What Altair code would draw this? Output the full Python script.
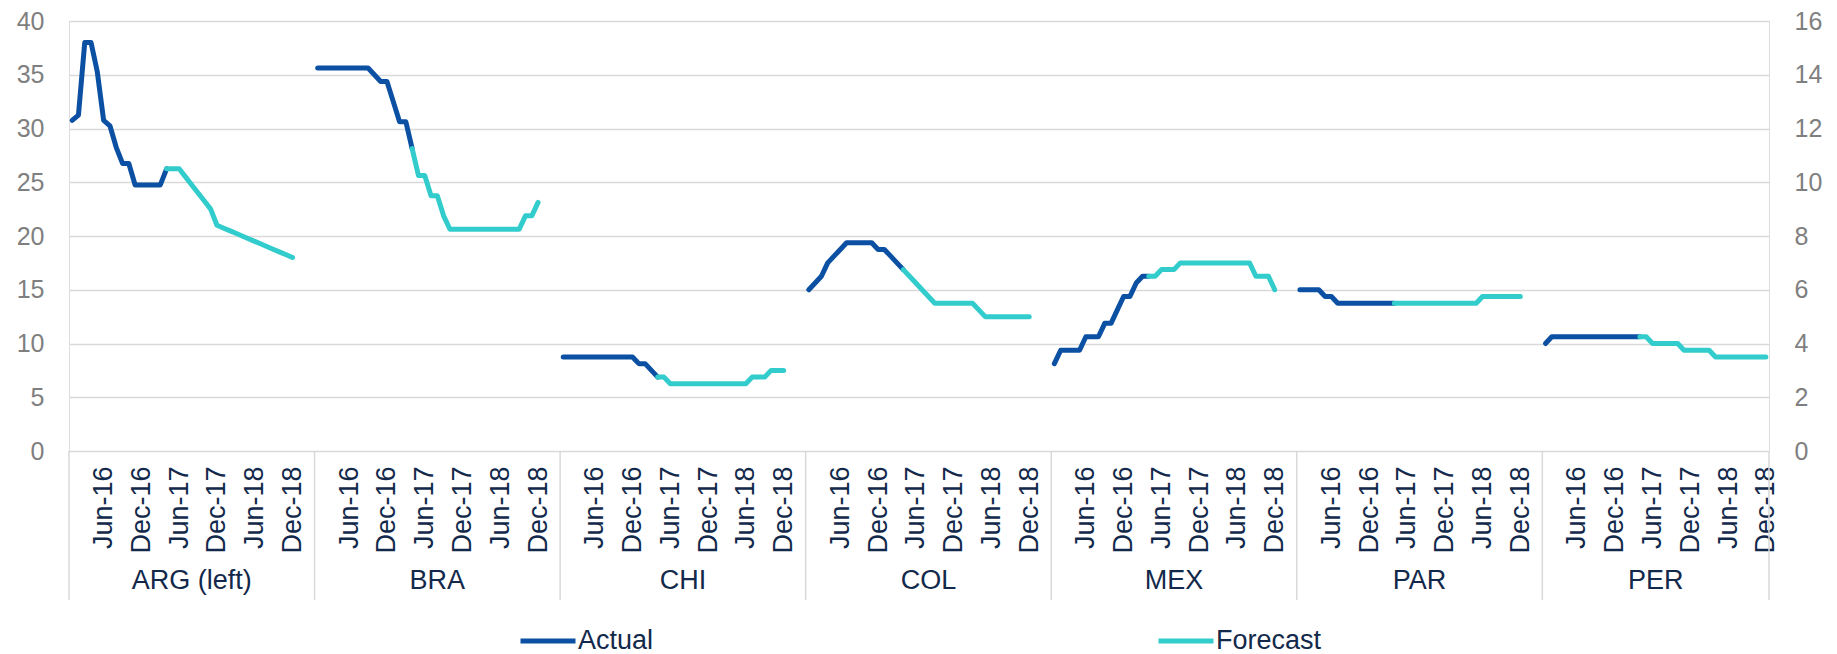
import altair as alt
import pandas as pd

# ---------------- data ----------------
countries = ["ARG (left)", "BRA", "CHI", "COL", "MEX", "PAR", "PER"]
tick_labels = ["Jun-16", "Dec-16", "Jun-17", "Dec-17", "Jun-18", "Dec-18"]
tick_months = [5, 11, 17, 23, 29, 35]          # month index (Jan-16 = 0)
slots_per_panel = 39                            # 36 months + 3 blank categories
n_months = 36

# Actual: months 0..15 (Jan-16 .. Apr-17)
arg_actual = [30.75, 31.25, 38.0, 38.0, 35.25, 30.75, 30.25, 28.25, 26.75, 26.75,
              24.75, 24.75, 24.75, 24.75, 24.75, 26.25]
bra_actual = [14.25, 14.25, 14.25, 14.25, 14.25, 14.25, 14.25, 14.25, 14.25, 14.0,
              13.75, 13.75, 13.0, 12.25, 12.25, 11.25]
chi_actual = [3.5, 3.5, 3.5, 3.5, 3.5, 3.5, 3.5, 3.5, 3.5, 3.5, 3.5, 3.5,
              3.25, 3.25, 3.0, 2.75]
col_actual = [6.0, 6.25, 6.5, 7.0, 7.25, 7.5, 7.75, 7.75, 7.75, 7.75, 7.75, 7.5,
              7.5, 7.25, 7.0, 6.75]
mex_actual = [3.25, 3.75, 3.75, 3.75, 3.75, 4.25, 4.25, 4.25, 4.75, 4.75, 5.25, 5.75,
              5.75, 6.25, 6.5, 6.5]
par_actual = [6.0, 6.0, 6.0, 6.0, 5.75, 5.75, 5.5, 5.5, 5.5, 5.5, 5.5, 5.5,
              5.5, 5.5, 5.5, 5.5]
per_actual = [4.0, 4.25, 4.25, 4.25, 4.25, 4.25, 4.25, 4.25, 4.25, 4.25, 4.25, 4.25,
              4.25, 4.25, 4.25, 4.25]

# Forecast: months 15..35 (Apr-17 .. Dec-18)
arg_forecast = [26.25, 26.25, 26.25, 25.5, 24.75, 24.0, 23.25, 22.5, 21.0, 20.75,
                20.5, 20.25, 20.0, 19.75, 19.5, 19.25, 19.0, 18.75, 18.5, 18.25, 18.0]
bra_forecast = [11.25, 10.25, 10.25, 9.5, 9.5, 8.75, 8.25, 8.25, 8.25, 8.25, 8.25,
                8.25, 8.25, 8.25, 8.25, 8.25, 8.25, 8.25, 8.75, 8.75, 9.25]
chi_forecast = [2.75, 2.75, 2.5, 2.5, 2.5, 2.5, 2.5, 2.5, 2.5, 2.5, 2.5, 2.5, 2.5,
                2.5, 2.5, 2.75, 2.75, 2.75, 3.0, 3.0, 3.0]
col_forecast = [6.75, 6.5, 6.25, 6.0, 5.75, 5.5, 5.5, 5.5, 5.5, 5.5, 5.5, 5.5, 5.25,
                5.0, 5.0, 5.0, 5.0, 5.0, 5.0, 5.0, 5.0]
mex_forecast = [6.5, 6.5, 6.75, 6.75, 6.75, 7.0, 7.0, 7.0, 7.0, 7.0, 7.0, 7.0, 7.0,
                7.0, 7.0, 7.0, 7.0, 6.5, 6.5, 6.5, 6.0]
par_forecast = [5.5, 5.5, 5.5, 5.5, 5.5, 5.5, 5.5, 5.5, 5.5, 5.5, 5.5, 5.5, 5.5, 5.5,
                5.75, 5.75, 5.75, 5.75, 5.75, 5.75, 5.75]
per_forecast = [4.25, 4.25, 4.0, 4.0, 4.0, 4.0, 4.0, 3.75, 3.75, 3.75, 3.75, 3.75,
                3.5, 3.5, 3.5, 3.5, 3.5, 3.5, 3.5, 3.5, 3.5]

actual = [arg_actual, bra_actual, chi_actual, col_actual, mex_actual, par_actual, per_actual]
forecast = [arg_forecast, bra_forecast, chi_forecast, col_forecast, mex_forecast,
            par_forecast, per_forecast]
forecast_start = 15

# ---------------- table ----------------
rows = []
for p, c in enumerate(countries):
    for m, v in enumerate(actual[p]):
        rows.append({"country": c, "series": "Actual", "x": p * slots_per_panel + m + 0.5, "value": v})
    for k, v in enumerate(forecast[p]):
        m = forecast_start + k
        rows.append({"country": c, "series": "Forecast", "x": p * slots_per_panel + m + 0.5, "value": v})
df = pd.DataFrame(rows)
df_left = df[df.country == countries[0]]
df_right = df[df.country != countries[0]]

bounds = [p * slots_per_panel for p in range(len(countries))] + [
    (len(countries) - 1) * slots_per_panel + n_months]
x_max = bounds[-1]
cat_df = pd.DataFrame({"country": countries,
                       "xc": [(bounds[i] + bounds[i + 1]) / 2 for i in range(len(countries))]})
sep_df = pd.DataFrame({"xb": bounds})

tick_values = [p * slots_per_panel + m + 0.5 for p in range(len(countries)) for m in tick_months]
label_expr = ("[" + ",".join("'%s'" % t for t in tick_labels) + "]"
              + "[floor(((datum.value - 0.5) %% %d) / 6)]" % slots_per_panel)

# ---------------- style ----------------
NAVY = "#13294b"
GREY = "#7f7f7f"
GRID = "#d9d9d9"
FONT = "Liberation Sans"
H = 430
W = 1700

x_enc = alt.X("x:Q", scale=alt.Scale(domain=[0, x_max], nice=False, zero=False),
              axis=alt.Axis(values=tick_values, labelExpr=label_expr, labelAngle=-90,
                            labelAlign="right", labelBaseline="middle", labelFontSize=27,
                            labelColor=NAVY, labelPadding=15, ticks=False, tickSize=0,
                            domain=False, grid=False, labelOverlap=False, labelFlush=False,
                            labelBound=False, title=None))

color = alt.Color("series:N",
                  scale=alt.Scale(domain=["Actual", "Forecast"], range=["#0b50a2", "#33cccc"]),
                  legend=alt.Legend(title=None, orient="none", direction="horizontal",
                                    legendX=449, legendY=590, symbolType="stroke",
                                    symbolSize=3025, symbolStrokeWidth=5,
                                    labelFontSize=27, labelColor=NAVY, labelFont=FONT,
                                    labelOffset=0, columnPadding=494, padding=0))

line_left = alt.Chart(df_left).mark_line(strokeWidth=5, strokeCap="round", strokeJoin="round").encode(
    x=x_enc,
    y=alt.Y("value:Q", scale=alt.Scale(domain=[0, 40], nice=False),
            axis=alt.Axis(orient="left", values=list(range(0, 41, 5)), grid=True,
                          gridColor=GRID, gridWidth=1.5, domain=False, ticks=False,
                          labelFontSize=25, labelColor=GREY, labelPadding=25, title=None)),
    color=color,
    detail="country:N",
)

line_right = alt.Chart(df_right).mark_line(strokeWidth=5, strokeCap="round", strokeJoin="round").encode(
    x=x_enc,
    y=alt.Y("value:Q", scale=alt.Scale(domain=[0, 16], nice=False),
            axis=alt.Axis(orient="right", values=list(range(0, 17, 2)), grid=False,
                          domain=False, ticks=False, labelFontSize=25, labelColor=GREY,
                          labelPadding=25, title=None)),
    color=color,
    detail="country:N",
)

seps = alt.Chart(sep_df).mark_rule(color=GRID, strokeWidth=1.5).encode(
    x="xb:Q", y=alt.value(H), y2=alt.value(H + 149))

cats = alt.Chart(cat_df).mark_text(fontSize=27, color=NAVY, baseline="middle", font=FONT).encode(
    x="xc:Q", y=alt.value(H + 130), text="country:N")

chart = alt.layer(line_left, line_right, seps, cats).resolve_scale(y="independent").properties(
    width=W, height=H, padding={"left": 8, "top": 1, "right": 0, "bottom": 0}
).configure_view(stroke=None).configure(font=FONT)

chart.save("out.html", embed_options={"renderer": "svg", "actions": False})
